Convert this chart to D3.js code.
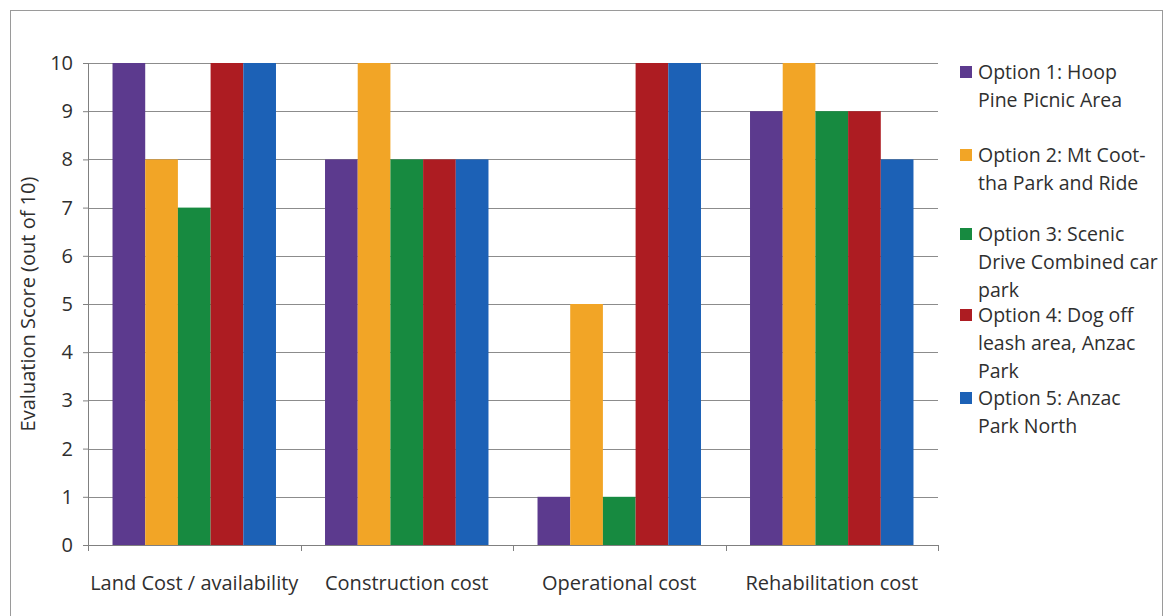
<!DOCTYPE html>
<html>
<head>
<meta charset="utf-8">
<script src="https://cdn.jsdelivr.net/npm/d3@7"></script>
<style>
  body { margin: 0; background: #fff; }
  text { font-family: "Open Sans", sans-serif; fill: #2f2f2f; }
</style>
</head>
<body>
<div id="chart"></div>
<script>
var svgWidth = 1164;
var svgHeight = 616;

var margin = { top: 63, right: 226, bottom: 71, left: 88 };
var width = svgWidth - margin.left - margin.right;
var height = svgHeight - margin.top - margin.bottom;

// data
var categories = ["Land Cost / availability", "Construction cost", "Operational cost", "Rehabilitation cost"];
var seriesNames = [
  ["Option 1: Hoop", "Pine Picnic Area"],
  ["Option 2: Mt Coot-", "tha Park and Ride"],
  ["Option 3: Scenic", "Drive Combined car", "park"],
  ["Option 4: Dog off", "leash area, Anzac", "Park"],
  ["Option 5: Anzac", "Park North"]
];
var option1 = [10, 8, 1, 9];
var option2 = [8, 10, 5, 10];
var option3 = [7, 8, 1, 9];
var option4 = [10, 8, 10, 9];
var option5 = [10, 8, 10, 8];
var yTicks = [0, 1, 2, 3, 4, 5, 6, 7, 8, 9, 10];
var colors = ["#5c3a8e", "#f2a526", "#178a40", "#ad1c22", "#1c61b6"];

var series = [option1, option2, option3, option4, option5];

var svg = d3.select("#chart")
  .append("svg")
  .attr("width", svgWidth)
  .attr("height", svgHeight)
  .style("display", "block");

// chart frame (bottom edge falls outside the picture)
svg.append("rect")
  .attr("x", 10.5)
  .attr("y", 10.5)
  .attr("width", 1152)
  .attr("height", 620)
  .attr("fill", "none")
  .attr("stroke", "#9a9a9a");

var chartGroup = svg.append("g")
  .attr("transform", `translate(${margin.left}, ${margin.top})`);

var x0 = d3.scaleBand()
  .domain(categories)
  .range([0, width]);

// excel style gap width 150%
var x1 = d3.scaleBand()
  .domain(d3.range(series.length))
  .range([0, x0.bandwidth()])
  .paddingInner(0)
  .paddingOuter(0.75);

var y = d3.scaleLinear()
  .domain([0, 10])
  .range([height, 0]);

// gridlines
chartGroup.append("g")
  .selectAll("line")
  .data(yTicks.filter(d => d > 0))
  .enter()
  .append("line")
  .attr("x1", 0)
  .attr("x2", width)
  .attr("y1", d => Math.round(y(d)) + 0.5)
  .attr("y2", d => Math.round(y(d)) + 0.5)
  .attr("stroke", "#8c8c8c")
  .attr("stroke-width", 1);

// bars
series.forEach(function(vals, i) {
  chartGroup.append("g")
    .selectAll("rect")
    .data(vals)
    .enter()
    .append("rect")
    .attr("x", (d, j) => x0(categories[j]) + x1(i))
    .attr("y", d => y(d))
    .attr("width", x1.bandwidth())
    .attr("height", d => height - y(d))
    .attr("fill", colors[i]);
});

// y axis
var leftAxis = d3.axisLeft(y)
  .tickValues(yTicks)
  .tickSize(5)
  .tickPadding(10)
  .tickFormat(d3.format("d"));

var yAxis = chartGroup.append("g")
  .call(leftAxis);
yAxis.select(".domain").attr("stroke", "#808080");
yAxis.selectAll(".tick line").attr("stroke", "#808080");
yAxis.selectAll("text")
  .style("font-size", "20px")
  .style("font-family", "'Open Sans', sans-serif")
  .attr("fill", "#2f2f2f");

// x axis with ticks between categories
var xAxis = chartGroup.append("g")
  .attr("transform", `translate(0, ${height})`);
xAxis.append("line")
  .attr("x1", 0)
  .attr("x2", width)
  .attr("y1", 0.5)
  .attr("y2", 0.5)
  .attr("stroke", "#808080");
xAxis.selectAll(".sep")
  .data(categories.map(c => x0(c)).concat([width]))
  .enter()
  .append("line")
  .attr("x1", d => Math.round(d) + 0.5)
  .attr("x2", d => Math.round(d) + 0.5)
  .attr("y1", 0)
  .attr("y2", 6)
  .attr("stroke", "#808080");
xAxis.selectAll(".lbl")
  .data(categories)
  .enter()
  .append("text")
  .attr("x", d => x0(d) + x0.bandwidth() / 2)
  .attr("y", 45)
  .attr("text-anchor", "middle")
  .style("font-size", "20px")
  .text(d => d);

// y axis title
chartGroup.append("text")
  .attr("transform", "rotate(-90)")
  .attr("x", -height / 2)
  .attr("y", -margin.left + 35)
  .attr("text-anchor", "middle")
  .style("font-size", "20px")
  .text("Evaluation Score (out of 10)");

// legend
var legendTop = [72, 155, 234, 315, 398];
var legend = svg.append("g");
seriesNames.forEach(function(lines, i) {
  var g = legend.append("g")
    .attr("transform", `translate(960, ${legendTop[i]})`);
  g.append("rect")
    .attr("x", 0)
    .attr("y", -6)
    .attr("width", 12)
    .attr("height", 12)
    .attr("fill", colors[i]);
  g.selectAll("text")
    .data(lines)
    .enter()
    .append("text")
    .attr("x", 18)
    .attr("y", (d, k) => k * 28 + 7)
    .style("font-size", "19.5px")
    .text(d => d);
});
</script>
</body>
</html>
